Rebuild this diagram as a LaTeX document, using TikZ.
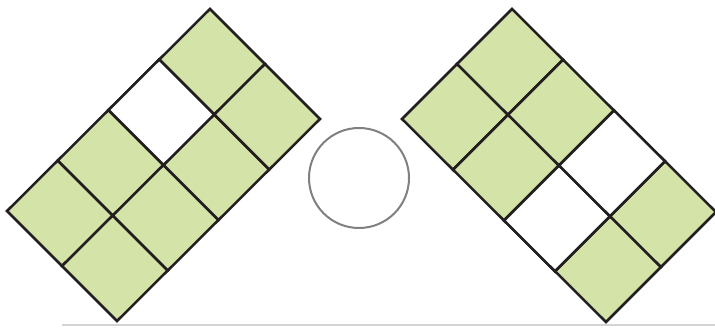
\documentclass[tikz,border=0pt]{standalone}
\usetikzlibrary{calc}
\definecolor{leaf}{RGB}{212,228,168}
\definecolor{rim}{RGB}{35,31,32}
\definecolor{ballrim}{RGB}{128,128,128}
\definecolor{floorline}{RGB}{212,212,212}
\tikzset{every picture/.style={line width=2.5pt}}

\begin{document}
\begin{tikzpicture}[x=1pt, y=-1pt,
    cell/.style={draw=rim, fill=leaf, line join=miter},
    hole/.style={draw=rim, fill=white, line join=miter}]
        \useasboundingbox (0,0) rectangle (715,328);
        % sol
        \coordinate (f0) at (62,325);
        \coordinate (f1) at (715,325);
        \draw[floorline, line width=2pt] (f0) -- (f1);
        % bloc gauche: 2 x 4 cases
        \begin{scope}[shift={(7,211)}, x={(55pt,-55pt)}, y={(50.75pt,50.5pt)}]
            \foreach \i in {0,1}
                \foreach \j in {0,...,3}
                    \filldraw[cell] (\i,\j) -- (\i+1,\j) -- (\i+1,\j+1) -- (\i,\j+1) -- cycle;
            \filldraw[hole] (0,2) -- (1,2) -- (1,3) -- (0,3) -- cycle;
        \end{scope}
        % bloc droit: 4 x 2 cases
        \begin{scope}[shift={(402,119)}, x={(51pt,-50.75pt)}, y={(55pt,55pt)}]
            \foreach \i in {0,...,3}
                \foreach \j in {0,1}
                    \filldraw[cell] (\i,\j) -- (\i+1,\j) -- (\i+1,\j+1) -- (\i,\j+1) -- cycle;
            \foreach \j in {0,1}
                \filldraw[hole] (2,\j) -- (3,\j) -- (3,\j+1) -- (2,\j+1) -- cycle;
        \end{scope}
        % balle
        \node[circle, draw=ballrim, line width=2pt, inner sep=0pt, minimum size=100pt] (ball) at (359,178) {};
    \end{tikzpicture}
\end{document}
